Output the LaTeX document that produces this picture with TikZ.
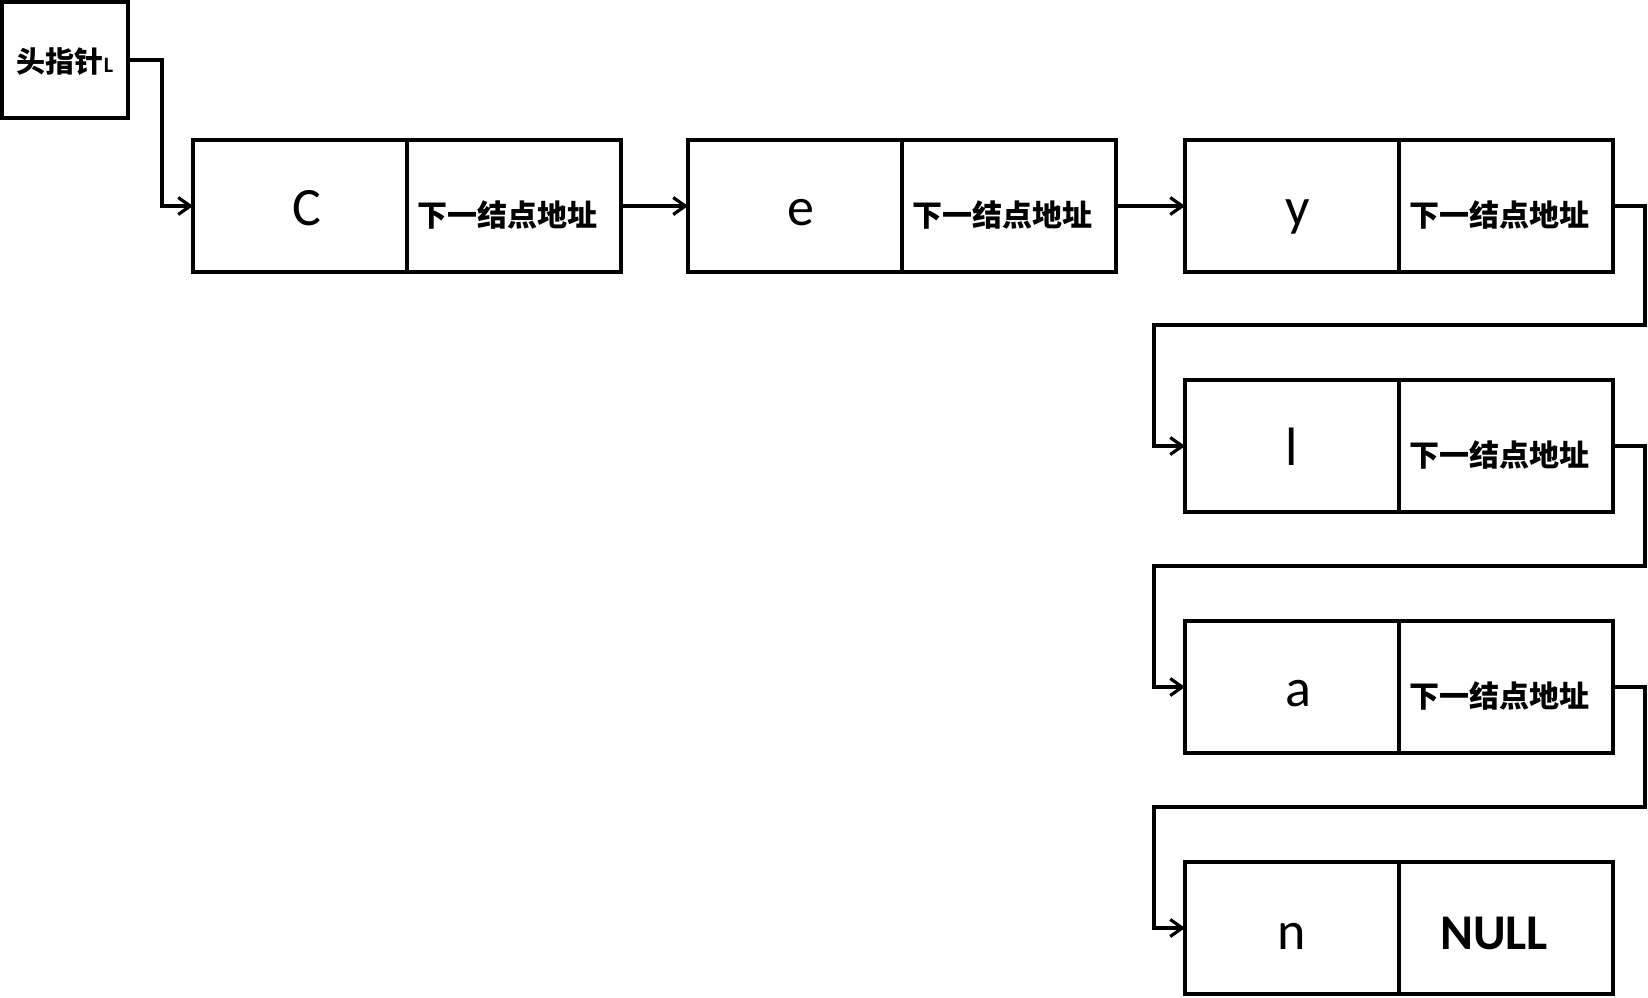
\documentclass[tikz,border=0pt]{standalone}
\usepackage{fontspec}
\setmainfont{Carlito}
\newfontfamily\cjk{Noto Sans CJK SC}
\usetikzlibrary{arrows.meta,calc}
\begin{document}
\begin{tikzpicture}[x=1pt,y=-1pt,
  cell/.style={draw,line width=3.5pt,minimum width=214pt,minimum height=132pt,inner sep=0pt,outer sep=0pt},
  headbox/.style={draw,line width=3.5pt,minimum width=126pt,minimum height=116pt,inner sep=0pt,outer sep=0pt},
  conn/.style={line width=3.2pt,-{Straight Barb[length=12pt,width=17pt]}},
  datatxt/.style={anchor=base,inner sep=0pt,font=\fontsize{54}{60}\selectfont},
  nexttxt/.style={anchor=base,inner sep=0pt,font=\cjk\bfseries\fontsize{30}{36}\selectfont},
  nulltxt/.style={anchor=base,inner sep=0pt,font=\bfseries\fontsize{50}{56}\selectfont},
]
\useasboundingbox (0,0) rectangle (1648,997);

% head pointer
\node[headbox] (head) at (65,60) {};
\node[anchor=base,inner sep=0pt] (headtxt) at ($(head.center)+(0,12.5)$)
  {{\cjk\bfseries\fontsize{29}{32}\selectfont 头指针}{\bfseries\fontsize{22}{24}\selectfont L}};

% row 1
\node[cell] (d1) at (300,206) {};
\node[cell] (p1) at (514,206) {};
\node[cell] (d2) at (795,206) {};
\node[cell] (p2) at (1009,206) {};
\node[cell] (d3) at (1292,206) {};
\node[cell] (p3) at (1506,206) {};
% rows 2-4
\node[cell] (d4) at (1292,446) {};
\node[cell] (p4) at (1506,446) {};
\node[cell] (d5) at (1292,687) {};
\node[cell] (p5) at (1506,687) {};
\node[cell] (d6) at (1292,928) {};
\node[cell] (p6) at (1506,928) {};

% data texts
\node[datatxt] (t1) at ($(d1.center)+(7,19)$) {C};
\node[datatxt] (t2) at ($(d2.center)+(6,19)$) {e};
\node[datatxt] (t3) at ($(d3.center)+(6,19)$) {y};
\node[datatxt] (t4) at ($(d4.center)+(0,19)$) {l};
\node[datatxt] (t5) at ($(d5.center)+(6,19)$) {a};
\node[datatxt] (t6) at ($(d6.center)+(0,21)$) {n};

% pointer texts
\node[nexttxt] (n1) at ($(p1.center)+(-7,20)$) {下一结点地址};
\node[nexttxt] (n2) at ($(p2.center)+(-7,20)$) {下一结点地址};
\node[nexttxt] (n3) at ($(p3.center)+(-7,20)$) {下一结点地址};
\node[nexttxt] (n4) at ($(p4.center)+(-7,20)$) {下一结点地址};
\node[nexttxt] (n5) at ($(p5.center)+(-7,20)$) {下一结点地址};
\node[nulltxt] (n6) at ($(p6.center)+(-12,21)$) {NULL};

% turn coordinates
\coordinate (r1) at (1645,325);
\coordinate (l1) at (1154,325);
\coordinate (r2) at (1645,566);
\coordinate (l2) at (1154,566);
\coordinate (r3) at (1645,807);
\coordinate (l3) at (1154,807);

% connectors
\draw[conn] (head.east) -- ++(34,0) |- (d1.west);
\draw[conn] (p1.east) -- (d2.west);
\draw[conn] (p2.east) -- (d3.west);
\draw[conn] (p3.east) -| (r1) -- (l1) |- (d4.west);
\draw[conn] (p4.east) -| (r2) -- (l2) |- (d5.west);
\draw[conn] (p5.east) -| (r3) -- (l3) |- (d6.west);
\end{tikzpicture}
\end{document}
